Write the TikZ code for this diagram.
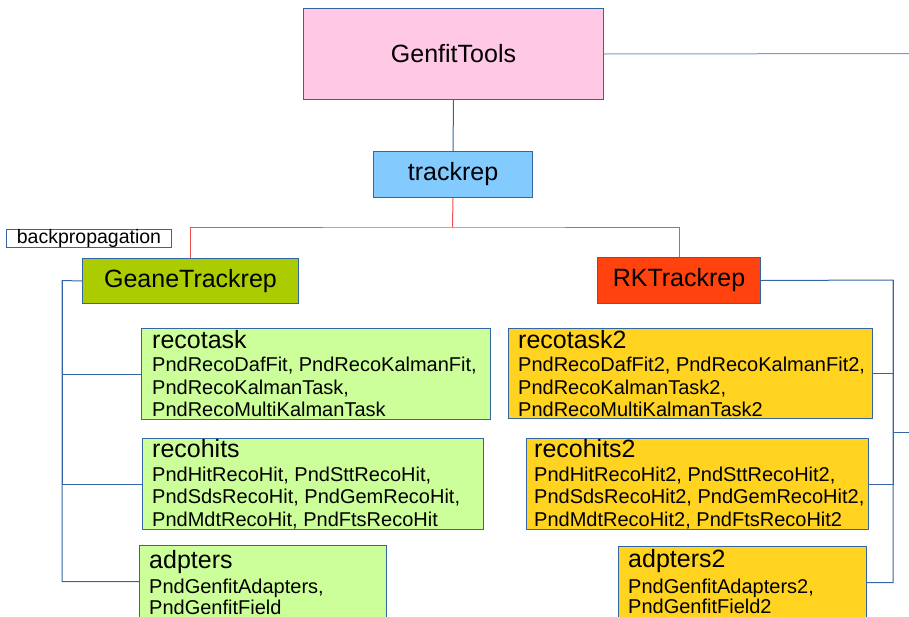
\documentclass[tikz,border=0pt]{standalone}
\usepackage{fontspec}
\setmainfont{Liberation Sans}
\definecolor{pinkc}{HTML}{FFC8E4}
\definecolor{skyc}{HTML}{83CAFF}
\definecolor{olivec}{HTML}{AACC00}
\definecolor{rkc}{HTML}{FF420E}
\definecolor{lgreen}{HTML}{CCFF99}
\definecolor{yell}{HTML}{FFD320}
\definecolor{bord}{HTML}{3465A4}
\definecolor{lbl}{HTML}{729FCF}
\definecolor{redl}{HTML}{F05050}
\begin{document}
\begin{tikzpicture}[x=1pt,y=-1pt,
  box/.style={draw=bord, line width=1pt, inner sep=0pt, anchor=north west},
  conn/.style={draw=bord, line width=1pt},
  body/.style={anchor=base west, inner sep=0pt, font=\fontsize{20}{22}\selectfont},
  ttl/.style={anchor=base west, inner sep=0pt, font=\fontsize{25}{28}\selectfont},
  big/.style={font=\fontsize{25}{28}\selectfont}]
\useasboundingbox (0,0) rectangle (909,616);

% top boxes
\node[box, fill=pinkc, minimum width=300, minimum height=91, big] (gt) at (303,8) {GenfitTools};
\node[box, fill=skyc, minimum width=159, minimum height=46, big] (tr) at (373,151) {trackrep};
\node[box, fill=white, minimum width=165, minimum height=18, font=\fontsize{19.5}{20}\selectfont] (bp) at (6,229) {backpropagation};
\node[box, fill=olivec, minimum width=216, minimum height=45, big] (gen) at (82,258) {GeaneTrackrep};
\node[box, fill=rkc, minimum width=163, minimum height=46, big] (rk) at (597,257) {RKTrackrep};

% left content boxes
\node[box, fill=lgreen, minimum width=349, minimum height=91] (rt) at (141,328) {};
\node[box, fill=lgreen, minimum width=341, minimum height=91] (rh) at (142,438) {};
\node[box, fill=lgreen, minimum width=247, minimum height=72] (ad) at (139,545) {};
% right content boxes
\node[box, fill=yell, minimum width=364, minimum height=90] (rt2) at (508,328) {};
\node[box, fill=yell, minimum width=342, minimum height=91] (rh2) at (526,438) {};
\node[box, fill=yell, minimum width=248, minimum height=72] (ad2) at (618,546) {};

% texts left
\node[ttl] (rtt) at (152,348) {recotask};
\node[body] (rt1) at (152,371) {PndRecoDafFit, PndRecoKalmanFit,};
\node[body] (rt2l) at (152,394) {PndRecoKalmanTask,};
\node[body] (rt3) at (152,416) {PndRecoMultiKalmanTask};
\node[ttl] (rht) at (152,457) {recohits};
\node[body] (rh1) at (152,481) {PndHitRecoHit, PndSttRecoHit,};
\node[body] (rh2l) at (152,503) {PndSdsRecoHit, PndGemRecoHit,};
\node[body] (rh3) at (152,526) {PndMdtRecoHit, PndFtsRecoHit};
\node[ttl] (adt) at (149,568) {adpters};
\node[body] (ad1) at (149,593) {PndGenfitAdapters,};
\node[body] (ad2l) at (149,614) {PndGenfitField};
% texts right
\node[ttl] (rtt2) at (518,348) {recotask2};
\node[body] (rt21) at (518,371) {PndRecoDafFit2, PndRecoKalmanFit2,};
\node[body] (rt22) at (518,394) {PndRecoKalmanTask2,};
\node[body] (rt23) at (518,416) {PndRecoMultiKalmanTask2};
\node[ttl] (rht2) at (534,457) {recohits2};
\node[body] (rh21) at (534,481) {PndHitRecoHit2, PndSttRecoHit2,};
\node[body] (rh22) at (534,503) {PndSdsRecoHit2, PndGemRecoHit2,};
\node[body] (rh23) at (534,526) {PndMdtRecoHit2, PndFtsRecoHit2};
\node[ttl] (adt2) at (628,567) {adpters2};
\node[body] (ad21) at (628,593) {PndGenfitAdapters2,};
\node[body] (ad22) at (628,613) {PndGenfitField2};

% connectors
\coordinate (edgeA) at (909,53.5);
\draw[line width=1pt, draw=lbl] (gt.east) -- (edgeA);
\draw[conn] (gt.south) -- (tr.north);
\coordinate (rj) at (452.5,227);
\draw[line width=1pt, draw=redl] (tr.south) -- (rj);
\draw[line width=1pt, draw=redl] (gen.north) |- (rj) -| (rk.north);

\coordinate (lbus) at (62,280.5);
\draw[conn] (gen.west) -- (lbus) |- (ad.west);
\draw[conn] (lbus) |- (rt.west);
\draw[conn] (lbus) |- (rh.west);

\coordinate (rbus) at (893,280);
\draw[conn] (rk.east) -- (rbus) |- (ad2.east);
\draw[conn] (rbus) |- (rt2.east);
\draw[conn] (rbus) |- (rh2.east);
\coordinate (edgeB) at (909,432);
\draw[conn] (edgeB) -- (edgeB -| rbus);
\end{tikzpicture}
\end{document}
